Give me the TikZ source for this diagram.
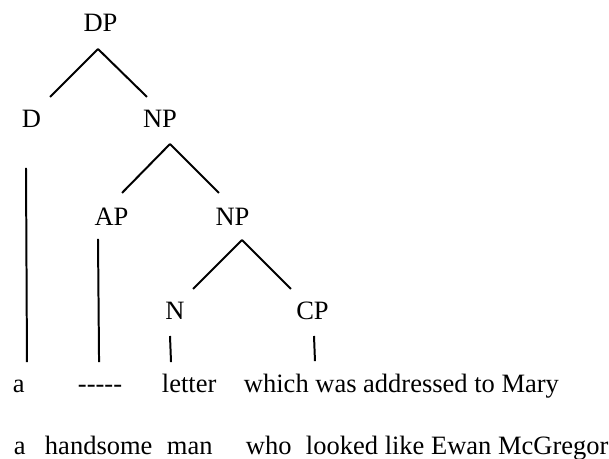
\documentclass[tikz,border=0pt]{standalone}
\usepackage{fontspec}
\setmainfont{Liberation Serif}
\usetikzlibrary{calc}

\begin{document}
\begin{tikzpicture}[x=0.4528pt, y=-0.4528pt, line width=0.9pt,
		font=\fontsize{12}{14}\selectfont,
		cat/.style={anchor=base, inner sep=0pt, text height=0.66em, text depth=0pt},
		word/.style={anchor=base west, inner sep=0pt, text height=0.7em}]
	\useasboundingbox (0,0) rectangle (609,459);
	\node[cat] (dp) at (100.5,32) {DP};
	\node[cat] (d) at (31.5,128) {D};
	\node[cat] (np) at (160,128) {NP};
	\node[cat] (ap) at (111.5,226) {AP};
	\node[cat] (nps) at (232.5,226) {NP};
	\node[cat] (n) at (175,320) {N};
	\node[cat] (cp) at (312.5,320) {CP};
	
	\node[word] (a) at (12,392) {a};
	\node[word] (gap) at (77,392) {-\kern0pt-\kern0pt-\kern0pt-\kern0pt-};
	\node[word] (letter) at (161,392) {letter};
	\node[word] (which) at (243,392) {which was addressed to Mary};
	
	\node[word] (aa) at (13,455) {a};
	\node[word] (handsome) at (44,455) {handsome};
	\node[word] (man) at (166,455) {man};
	\node[word] (who) at (245,455) {who};
	\node[word] (looked) at (305,455) {looked like Ewan McGregor};
	
	\draw ($(dp.south)+(-2.5,16)$) -- ($(d.north)+(18.5,-15.5)$);
	\draw ($(dp.south)+(-2.5,16)$) -- ($(np.north)+(-13,-15.5)$);
	\draw ($(np.south)+(10,15)$) -- ($(ap.north)+(10.5,-17.5)$);
	\draw ($(np.south)+(10,15)$) -- ($(nps.north)+(-13.5,-17.5)$);
	\draw ($(nps.south)+(9.5,13)$) -- ($(n.north)+(18,-15.5)$);
	\draw ($(nps.south)+(9.5,13)$) -- ($(cp.north)+(-21.5,-15.5)$);
	
	\draw ($(d.south)+(-5.5,39)$) -- ($(a.north)+(8.1,-13.5)$);
	\draw ($(ap.south)+(-13.5,12)$) -- ($(gap.north)+(-1,-13.5)$);
	\draw ($(n.south)+(-5,15)$) -- ($(letter.north)+(-18.2,-13.5)$);
	\draw ($(cp.south)+(1.5,15)$) -- ($(which.north)+(-86.5,-14.5)$);
\end{tikzpicture}
\end{document}
